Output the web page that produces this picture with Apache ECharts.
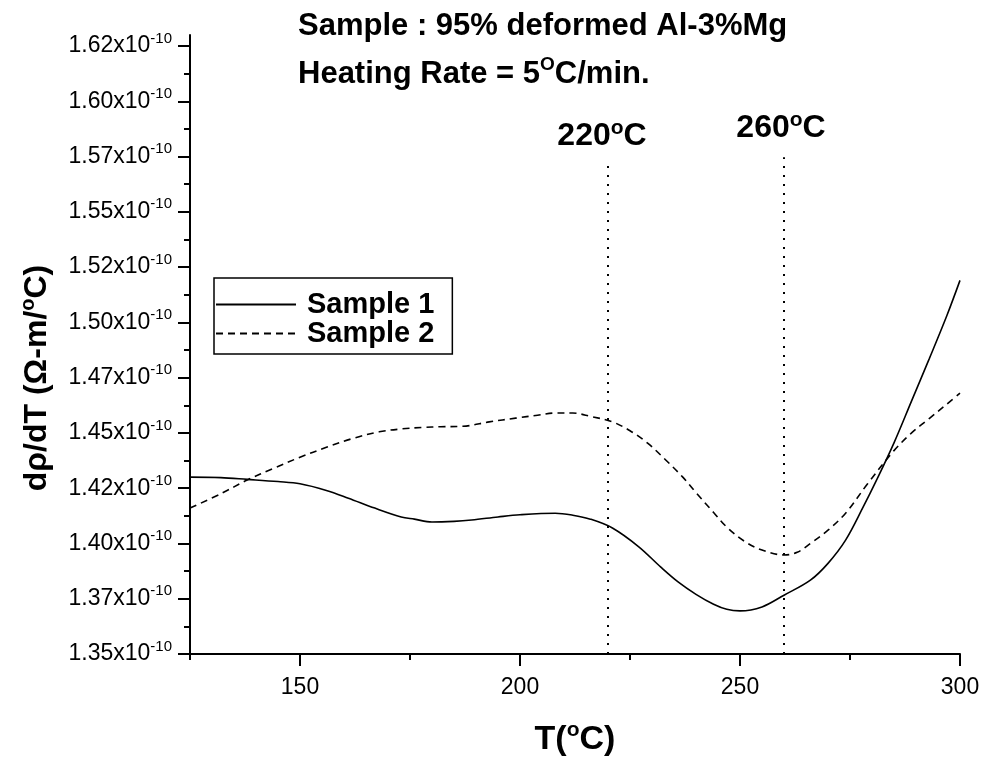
<!DOCTYPE html>
<html>
<head>
<meta charset="utf-8">
<script src="https://cdn.jsdelivr.net/npm/echarts@6/dist/echarts.min.js"></script>
<style>html,body{margin:0;padding:0;background:#fff}#c{width:986px;height:761px}</style>
</head>
<body>
<div id="c"></div>
<script>
// Values in units of 1e-10 Ω·m/°C
const temps1 = [125,132,138,145,150,156,161,167,173,176,180,185,189,195,200,208,212,216,221,227,232,236,240,244,247,250,255,260,266,270,274,278,281,285,289,293,297,300];
const sample1 = [1.430,1.4298,1.429,1.428,1.427,1.424,1.4205,1.416,1.412,1.411,1.4097,1.4100,1.4106,1.4120,1.4130,1.4137,1.4128,1.411,1.407,1.3985,1.3893,1.3825,1.377,1.3725,1.3702,1.3695,1.3713,1.3766,1.3834,1.391,1.4015,1.4165,1.4285,1.4455,1.4645,1.4835,1.503,1.519];
const temps2 = [125,132,138,144,150,156,162,168,173,178,182,187,193,199,204,208,212,216,221,225,229,233,237,240,244,247,251,255,260,263,266,270,274,279,285,289,293,297,300];
const sample2 = [1.416,1.4225,1.4287,1.434,1.439,1.4435,1.4475,1.4505,1.4518,1.4525,1.4528,1.453,1.455,1.4567,1.458,1.459,1.459,1.4575,1.455,1.451,1.4454,1.438,1.430,1.423,1.414,1.4074,1.401,1.397,1.3948,1.396,1.400,1.406,1.4137,1.427,1.442,1.450,1.4565,1.463,1.468];
const seriesNames = ['Sample 1', 'Sample 2'];
const markTemps = [220, 260];
const markTops = [1.571, 1.5747];
const markLabels = ['220', '260'];
const xMajorTicks = [150, 200, 250, 300];
const xMinorTicks = [125, 175, 225, 275];
const yMajorTicks = [1.35,1.375,1.40,1.425,1.45,1.475,1.50,1.525,1.55,1.575,1.60,1.625];
const yTickLabels = ['1.35','1.37','1.40','1.42','1.45','1.47','1.50','1.52','1.55','1.57','1.60','1.62'];
const yMinorTicks = [1.3625,1.3875,1.4125,1.4375,1.4625,1.4875,1.5125,1.5375,1.5625,1.5875,1.6125];
const titleLine1 = 'Sample : 95% deformed Al-3%Mg';
const titleLine2 = 'Heating Rate = 5{sup|O}C/min.';

const FONT = "'Liberation Sans', Arial, sans-serif";
const chart = echarts.init(document.getElementById('c'), null, {renderer: 'canvas'});

function yLabel(v) {
  let best = 0, d = 1e9;
  yMajorTicks.forEach((t, i) => { if (Math.abs(t - v) < d) { d = Math.abs(t - v); best = i; } });
  return '{b|' + yTickLabels[best] + 'x10}{s|-10}';
}
function supStyle(size) {
  return {fontFamily: FONT, fontWeight: 'bold', fontSize: size, lineHeight: size, color: '#000', verticalAlign: 'top'};
}

const option = {
  animation: false,
  backgroundColor: '#fff',
  title: [
    {text: titleLine1, left: 293, top: 6, textStyle: {fontFamily: FONT, fontWeight: 'bold', fontSize: 31, color: '#000'}},
    {text: titleLine2, left: 293, top: 50, textStyle: {fontFamily: FONT, fontWeight: 'bold', fontSize: 31, lineHeight: 38, color: '#000',
      rich: {sup: supStyle(19)}}}
  ],
  legend: {
    left: 214, top: 278, orient: 'vertical',
    itemWidth: 80, itemHeight: 14, itemGap: 0,
    padding: [12, 18, 6, 1],
    borderColor: '#000', borderWidth: 1.5, borderRadius: 0,
    itemStyle: {opacity: 0},
    textStyle: {fontFamily: FONT, fontWeight: 'bold', fontSize: 29, color: '#000', lineHeight: 26, padding: [0, 0, 0, 6]},
    data: seriesNames
  },
  grid: {left: 190, right: 26, top: 35, bottom: 107, containLabel: false, outerBoundsMode: 'none'},
  xAxis: [
    {type: 'value', min: 125, max: 300, interval: 25,
      axisLine: {show: true, lineStyle: {color: '#000', width: 2}},
      axisTick: {show: true, inside: false, length: 12, customValues: xMajorTicks, lineStyle: {color: '#000', width: 2}},
      axisLabel: {show: true, customValues: xMajorTicks, margin: 22, fontFamily: FONT, fontSize: 23, color: '#000'},
      splitLine: {show: false},
      name: 'T({sup|o}C)', nameLocation: 'middle', nameGap: 66,
      nameTextStyle: {fontFamily: FONT, fontWeight: 'bold', fontSize: 34, lineHeight: 40, color: '#000',
        rich: {sup: supStyle(21)}}
    },
    {type: 'value', min: 125, max: 300, interval: 25, position: 'bottom',
      axisLine: {show: false}, axisLabel: {show: false}, splitLine: {show: false},
      axisTick: {show: true, length: 6, customValues: xMinorTicks, lineStyle: {color: '#000', width: 2}}
    }
  ],
  yAxis: [
    {type: 'value', min: 1.35, max: 1.63,
      axisLine: {show: true, lineStyle: {color: '#000', width: 2}},
      axisTick: {show: true, length: 12, customValues: yMajorTicks, lineStyle: {color: '#000', width: 2}},
      axisLabel: {show: true, customValues: yMajorTicks, margin: 18, formatter: yLabel,
        rich: {
          b: {fontFamily: FONT, fontSize: 23, lineHeight: 30, color: '#000'},
          s: {fontFamily: FONT, fontSize: 15, lineHeight: 15, color: '#000', verticalAlign: 'top'}
        }},
      splitLine: {show: false}
    },
    {type: 'value', min: 1.35, max: 1.63, position: 'left',
      axisLine: {show: false}, axisLabel: {show: false}, splitLine: {show: false},
      axisTick: {show: true, length: 6, customValues: yMinorTicks, lineStyle: {color: '#000', width: 2}}
    }
  ],
  graphic: [
    {type: 'text', x: 37, y: 378, rotation: Math.PI / 2,
      style: {text: 'dρ/dT (Ω-m/{sup|o}C)', fill: '#000', align: 'center', verticalAlign: 'middle',
        font: "bold 32px 'Liberation Sans', Arial, sans-serif", lineHeight: 38,
        rich: {sup: {font: "bold 20px 'Liberation Sans', Arial, sans-serif", lineHeight: 20, fill: '#000', verticalAlign: 'top'}}}}
  ],
  series: [
    {name: seriesNames[0], type: 'line', xAxisIndex: 0, yAxisIndex: 0,
      data: temps1.map((t, i) => [t, sample1[i]]),
      smooth: 0.35, showSymbol: false, symbol: 'none',
      lineStyle: {color: '#000', width: 1.6, type: 'solid'},
      itemStyle: {color: '#000'},
      markLine: {
        silent: true, symbol: ['none', 'none'],
        lineStyle: {color: '#000', width: 2, type: [2, 7]},
        label: {show: true, position: 'end', distance: 10,
          fontFamily: FONT, fontWeight: 'bold', fontSize: 32, lineHeight: 38, color: '#000',
          rich: {sup: supStyle(21)}},
        data: markTemps.map((t, i) => [
          {coord: [t, 1.35], label: {formatter: markLabels[i] + '{sup|o}C', offset: [i === 0 ? -6 : -3, 0]}},
          {coord: [t, markTops[i]]}
        ])
      }
    },
    {name: seriesNames[1], type: 'line', xAxisIndex: 0, yAxisIndex: 0,
      data: temps2.map((t, i) => [t, sample2[i]]),
      smooth: 0.35, showSymbol: false, symbol: 'none',
      lineStyle: {color: '#000', width: 1.6, type: [7, 5]},
      itemStyle: {color: '#000'}
    }
  ]
};
chart.setOption(option);
</script>
</body>
</html>
